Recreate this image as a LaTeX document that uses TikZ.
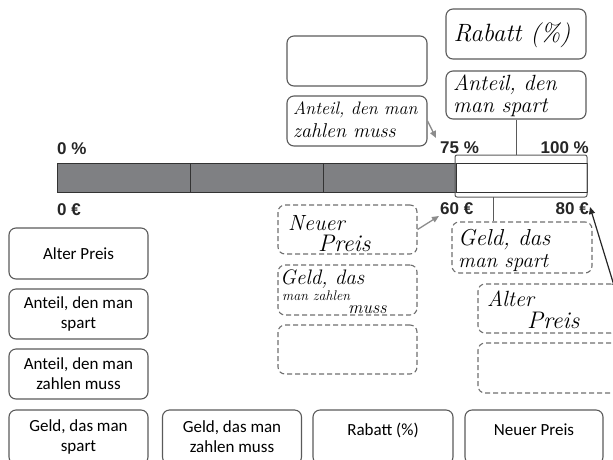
\documentclass[tikz,border=0pt]{standalone}
\usepackage{fontspec}
\usetikzlibrary{arrows.meta,calc}
\newfontfamily\carl{Carlito}
\newfontfamily\arb{Liberation Sans}
\definecolor{boxgray}{HTML}{5A5A5A}
\definecolor{dashgray}{HTML}{6E6E6E}
\definecolor{barfill}{HTML}{7F8083}
\definecolor{arrgray}{HTML}{8C8C8C}
\newcommand\hwf[1]{\itshape\fontsize{#1}{#1}\selectfont}
\tikzset{
  pbox/.style={draw=boxgray, line width=1.1pt, rounded corners=7pt,
    minimum width=139pt, minimum height=50pt, align=center, inner sep=0pt,
    font=\carl\fontsize{17}{20}\selectfont},
  hbox/.style={draw=boxgray, line width=1.1pt, rounded corners=7pt,
    minimum width=140pt, minimum height=50pt, inner sep=0pt},
  dbox/.style={hbox, draw=dashgray, dash pattern=on 5pt off 3pt},
  num/.style={font=\arb\bfseries\fontsize{17}{17}\selectfont, inner sep=0pt, text=black!85},
  hw/.style={inner sep=0pt, anchor=base west},
  garrow/.style={draw=arrgray, line width=1.3pt, -{Triangle[length=7pt,width=6pt]}},
  barrow/.style={draw=black!85, line width=1.2pt, -{Triangle[length=7pt,width=6pt]}},
  conn/.style={draw=boxgray, line width=1pt},
}
\begin{document}
\begin{tikzpicture}[x=1pt,y=-1pt]
\useasboundingbox (0,0) rectangle (613,459);
\clip (0,0) rectangle (613,459);
% bar
\fill[barfill] (57,163) rectangle (456,192);
\draw[black!80, line width=1pt] (57,163) rectangle (587,192);
\draw[black!80, line width=0.9pt] (190,163) -- (190,192) (323,163) -- (323,192) (456,163) -- (456,192);
\node[draw=boxgray, line width=1pt, rounded corners=2pt, minimum width=132pt, minimum height=42pt, inner sep=0pt] (white) at (521,176) {};
\draw[black!80, line width=1pt] (456,163) -- (587,163) (456,192) -- (587,192);
% scale labels
\node[num, anchor=base west] (p0) at (57,154) {0 \%};
\node[num, anchor=base west] (p75) at (440,153) {75 \%};
\node[num, anchor=base east] (p100) at (589,153) {100 \%};
\node[num, anchor=base west] (e0) at (57,215) {0 €};
\node[num, anchor=base west] (e60) at (440,214) {60 €};
\node[num, anchor=base east] (e80) at (589,214) {80 €};
% top boxes
\node[hbox] (empA) at (357,61) {};
\node[hbox] (hzahl) at (357,121) {};
\node[hw, font=\hwf{18}] (hzahlA) at (293,114) {Anteil, den man};
\node[hw, font=\hwf{20}] (hzahlB) at (293,137) {zahlen muss};
\node[hbox] (hrab) at (516,34) {};
\node[inner sep=0pt, font=\hwf{25}] (hrabT) at (512,35) {Rabatt (\%)};
\node[hbox, minimum height=48pt] (hspar) at (516,95) {};
\node[hw, font=\hwf{22}] (hsparA) at (453,90) {Anteil, den};
\node[hw, font=\hwf{22}] (hsparB) at (453,112) {man spart};
% dashed boxes left-middle
\node[dbox, minimum width=139pt, minimum height=49pt] (dneu) at (347.5,229.5) {};
\node[hw, font=\hwf{22}] (dneuA) at (288,230) {Neuer};
\node[hw, font=\hwf{24}] (dneuB) at (318,251) {Preis};
\node[dbox, minimum width=139pt] (dgz) at (347.5,290) {};
\node[hw, font=\hwf{21}] (dgzA) at (280,284) {Geld, das};
\node[hw, font=\hwf{14}] (dgzB) at (282,300) {man zahlen};
\node[hw, font=\hwf{18}] (dgzC) at (348,313) {muss};
\node[dbox, minimum width=139pt, minimum height=49pt] (demp1) at (347.5,349.5) {};
% dashed boxes right
\node[dbox, minimum height=51pt] (dgs) at (522,247.5) {};
\node[hw, font=\hwf{23}] (dgsA) at (458,245) {Geld, das};
\node[hw, font=\hwf{21}] (dgsB) at (458,267) {man spart};
\node[dbox, minimum height=49pt] (dalt) at (548,308.5) {};
\node[hw, font=\hwf{22}] (daltA) at (487,306) {Alter};
\node[hw, font=\hwf{24}] (daltB) at (527,328) {Preis};
\node[dbox] (demp2) at (548,368) {};
% connectors
\draw[conn] (hspar.south) -- (hspar.south |- white.north);
\coordinate (bt) at (493,197);
\draw[conn] (bt) -- (bt |- dgs.north);
\coordinate (t75) at (436,138);
\draw[garrow] (hzahl.east) -- (t75);
\coordinate (t60) at (439,216);
\draw[garrow] (dneu.east) -- (t60);
\coordinate (s80) at (616,292);
\coordinate (t80) at (590,207);
\draw[barrow] (s80) -- (t80);
% left column printed boxes
\node[pbox, minimum height=51pt] (alt) at (78.5,253.5) {Alter Preis};
\node[pbox] (ansp) at (78.5,314) {Anteil, den man\\spart};
\node[pbox] (anza) at (78.5,374) {Anteil, den man\\zahlen muss};
% bottom row printed boxes
\node[pbox, minimum height=54pt] (gsp) at (78.5,437) {Geld, das man\\spart};
\node[pbox, minimum height=54pt] (gza) at (232,437) {Geld, das man\\zahlen muss};
\node[pbox, minimum width=140pt, minimum height=54pt] (rab) at (383,437) {};
\node[inner sep=0pt, font=\carl\fontsize{17}{20}\selectfont] (rabT) at (rab.center |- 0,430) {Rabatt (\%)};
\node[pbox, minimum width=138pt, minimum height=54pt] (neu) at (534,437) {};
\node[inner sep=0pt, font=\carl\fontsize{17}{20}\selectfont] (neuT) at (neu.center |- 0,430) {Neuer Preis};
\end{tikzpicture}
\end{document}
